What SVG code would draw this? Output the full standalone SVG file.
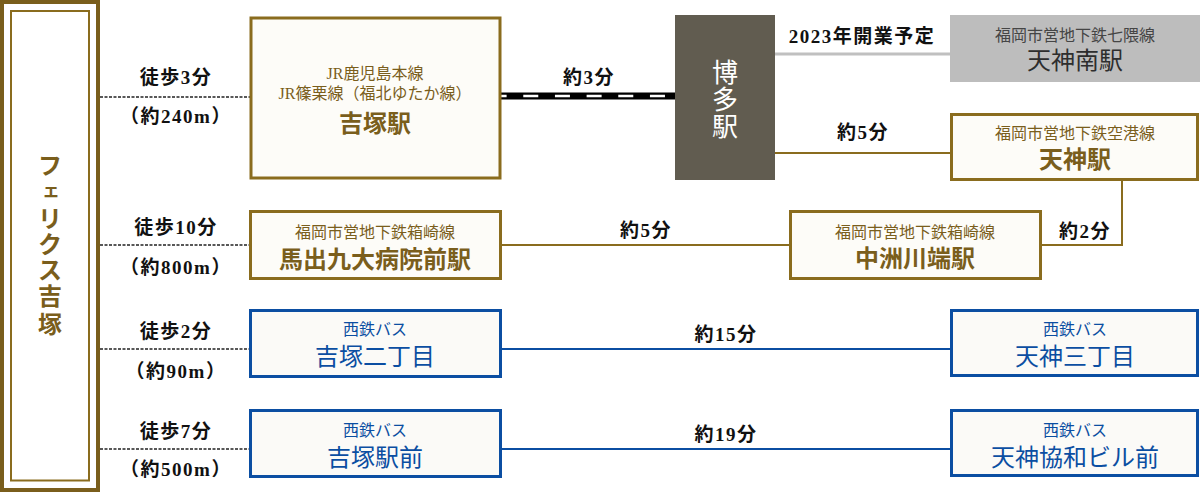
<svg xmlns="http://www.w3.org/2000/svg" width="1200" height="492" viewBox="0 0 1200 492">
<style>
text{font-family:"Liberation Serif","Noto Sans CJK JP",serif;text-anchor:middle}
.walk{font-size:19px;font-weight:bold;fill:#111;letter-spacing:1.5px}
.lbl{font-size:19px;font-weight:bold;fill:#111;letter-spacing:1.5px}
.gbox{fill:#fdfcf8;stroke:#8a6c1e;stroke-width:3}
.bbox{fill:#fbfaf7;stroke:#0b4ea2;stroke-width:3}
.gsub{font-size:16px;fill:#7a5e1c}
.gmain{font-size:24px;fill:#7a5e1c;font-weight:bold}
.bsub{font-size:16px;fill:#0b4ea2}
.bmain{font-size:24px;fill:#0b4ea2}
.dash{stroke:#222;stroke-width:1.5;stroke-dasharray:3 1.5;fill:none}
.gl{stroke:#8a6c1e;stroke-width:2;fill:none}
.bl{stroke:#0b4ea2;stroke-width:2;fill:none}
.vt{font-size:24px;fill:#7a5e1c;font-weight:bold}
</style>

<g id="felix">
<rect x="2" y="2" width="96" height="488" fill="#fff" stroke="#7a5e1c" stroke-width="4"/>
<rect x="11" y="11" width="78" height="469.5" fill="none" stroke="#8a6c1e" stroke-width="2"/>
<text class="vt" x="50" y="174">フ</text>
<text class="vt" x="51" y="197" style="font-size:18px">ェ</text>
<text class="vt" x="50" y="227">リ</text>
<text class="vt" x="50" y="253">ク</text>
<text class="vt" x="50" y="279">ス</text>
<text class="vt" x="50" y="305">吉</text>
<text class="vt" x="50" y="333">塚</text>
</g>

<g id="connectors">
<line class="dash" x1="100" y1="97" x2="250" y2="97"/>
<line class="dash" x1="100" y1="245" x2="250" y2="245"/>
<line class="dash" x1="100" y1="349" x2="250" y2="349"/>
<line class="dash" x1="100" y1="449" x2="250" y2="449"/>
<line x1="500" y1="96" x2="675" y2="96" stroke="#000" stroke-width="7"/>
<line x1="500" y1="96" x2="675" y2="96" stroke="#fff" stroke-width="2.5" stroke-dasharray="15 16.67" stroke-dashoffset="8.4"/>
<line x1="775" y1="54" x2="950" y2="54" stroke="#c0c0c0" stroke-width="3"/>
<line class="gl" x1="775" y1="153" x2="950" y2="153"/>
<polyline class="gl" points="1122,180 1122,245 1040,245"/>
<line class="gl" x1="500" y1="245" x2="790" y2="245"/>
<line class="bl" x1="500" y1="349" x2="950" y2="349"/>
<line class="bl" x1="500" y1="449" x2="950" y2="449"/>
<text class="walk" x="176" y="84">徒歩3分</text>
<text class="walk" x="176" y="123">（約240m）</text>
<text class="walk" x="176" y="234">徒歩10分</text>
<text class="walk" x="176" y="274">（約800m）</text>
<text class="walk" x="176" y="338">徒歩2分</text>
<text class="walk" x="176" y="378">（約90m）</text>
<text class="walk" x="176" y="438">徒歩7分</text>
<text class="walk" x="176" y="476">（約500m）</text>
<text class="lbl" x="589" y="84">約3分</text>
<text class="lbl" x="862" y="43">2023年開業予定</text>
<text class="lbl" x="863" y="139">約5分</text>
<text class="lbl" x="646" y="237">約5分</text>
<text class="lbl" x="1085" y="238">約2分</text>
<text class="lbl" x="726" y="341">約15分</text>
<text class="lbl" x="726" y="441">約19分</text>
</g>

<g id="yoshizuka-jr">
<rect class="gbox" x="251" y="18" width="249" height="160"/>
<text class="gsub" x="375" y="79">JR鹿児島本線</text>
<text class="gsub" x="375" y="99">JR篠栗線（福北ゆたか線）</text>
<text class="gmain" x="375" y="132">吉塚駅</text>
</g>

<g id="hakata">
<rect x="675" y="15" width="100" height="165" fill="#615c50"/>
<g style="font-size:26px;fill:#fff">
<text x="725" y="82">博</text>
<text x="725" y="109">多</text>
<text x="725" y="136">駅</text>
</g>
</g>

<g id="tenjin-minami">
<rect x="950" y="15" width="250" height="67" fill="#bdbdbd"/>
<text x="1075" y="41" style="font-size:16px;fill:#454545">福岡市営地下鉄七隈線</text>
<text x="1075" y="69" style="font-size:24px;fill:#2e2e2e">天神南駅</text>
</g>

<g id="tenjin">
<rect class="gbox" x="951.5" y="114.5" width="246" height="65"/>
<text class="gsub" x="1075" y="139">福岡市営地下鉄空港線</text>
<text class="gmain" x="1075" y="168">天神駅</text>
</g>

<g id="maidashi">
<rect class="gbox" x="250.5" y="211.5" width="250" height="67"/>
<text class="gsub" x="375" y="238">福岡市営地下鉄箱崎線</text>
<text class="gmain" x="375" y="268">馬出九大病院前駅</text>
</g>

<g id="nakasu">
<rect class="gbox" x="790.5" y="211.5" width="250" height="67"/>
<text class="gsub" x="915" y="238">福岡市営地下鉄箱崎線</text>
<text class="gmain" x="915" y="267">中洲川端駅</text>
</g>

<g id="bus-yoshizuka2">
<rect class="bbox" x="250.5" y="310.5" width="250" height="66"/>
<text class="bsub" x="375" y="335">西鉄バス</text>
<text class="bmain" x="375" y="365">吉塚二丁目</text>
</g>

<g id="bus-tenjin3">
<rect class="bbox" x="951.5" y="310.5" width="246" height="65"/>
<text class="bsub" x="1075" y="335">西鉄バス</text>
<text class="bmain" x="1075" y="365">天神三丁目</text>
</g>

<g id="bus-yoshizukaekimae">
<rect class="bbox" x="250.5" y="410.5" width="250" height="66"/>
<text class="bsub" x="375" y="436">西鉄バス</text>
<text class="bmain" x="375" y="466">吉塚駅前</text>
</g>

<g id="bus-tenjinkyowa">
<rect class="bbox" x="951.5" y="410.5" width="246" height="65"/>
<text class="bsub" x="1075" y="436">西鉄バス</text>
<text class="bmain" x="1075" y="466">天神協和ビル前</text>
</g>
</svg>
